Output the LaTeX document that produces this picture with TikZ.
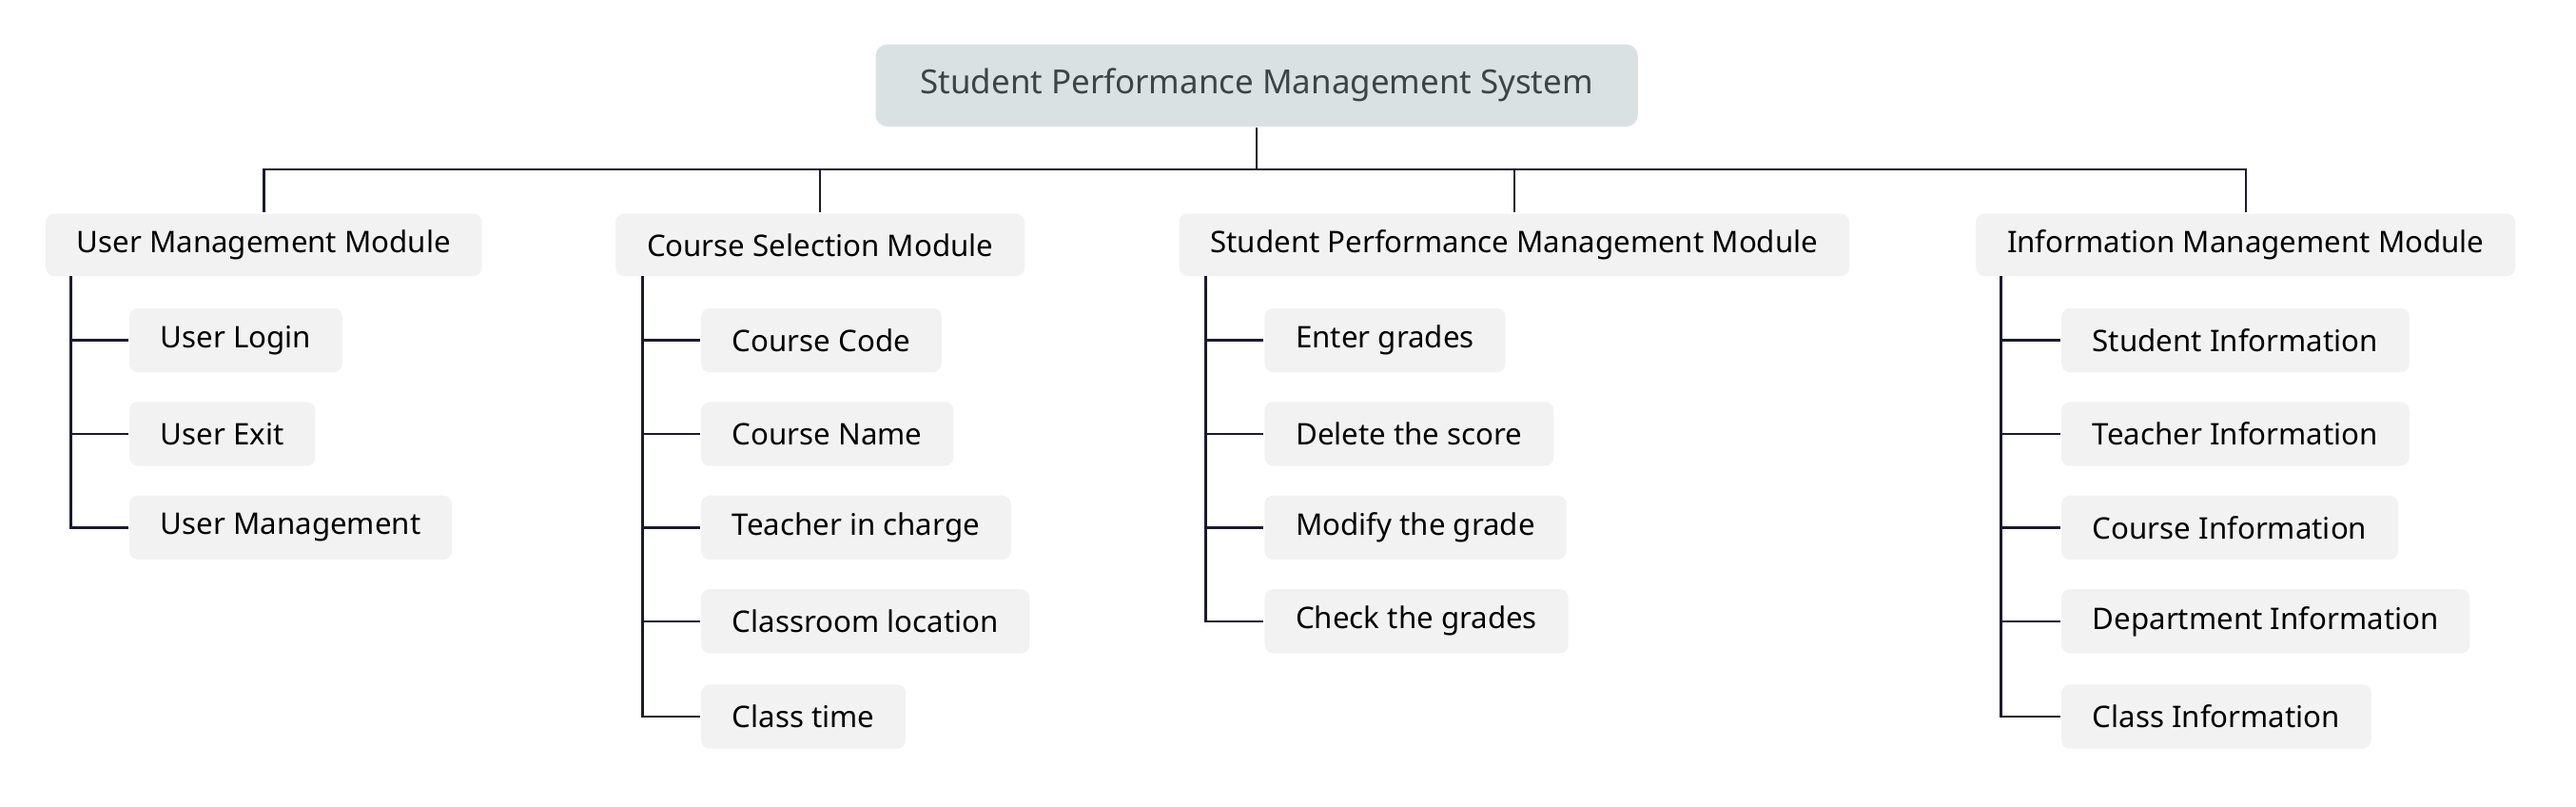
\documentclass[tikz,border=0pt]{standalone}
\usepackage{fontspec}
\setmainfont{Noto Sans}
\usetikzlibrary{positioning}
\definecolor{rootfill}{HTML}{DAE1E3}
\definecolor{boxfill}{HTML}{F2F2F2}
\definecolor{linec}{HTML}{1B1B2F}
\definecolor{roottext}{HTML}{3C4448}

\begin{document}
\begin{tikzpicture}[x=0.02cm,y=-0.02cm,line width=0.85pt,
	root/.style={fill=rootfill,rounded corners=4pt,minimum width=9.28cm,minimum height=1cm,text=roottext,font=\fontsize{11.5}{13}\selectfont},
	mod/.style={fill=boxfill,rounded corners=3pt,anchor=west,inner xsep=0.38cm,minimum height=0.76cm,font=\fontsize{10.3}{12}\selectfont},
	leaf/.style={mod,minimum height=0.78cm,font=\fontsize{10.3}{12}\selectfont\bfseries},
	link/.style={draw=linec}]
	\useasboundingbox (0,0) rectangle (1568,491);
		\node[root] (sys) at (765,52) {Student Performance Management System};
		\node[mod] (um) at (27,149) {User Management Module};
		\node[mod,font=\fontsize{10.3}{12}\selectfont\bfseries] (cs) at (374,149) {Course Selection Module};
		\node[mod] (sp) at (717,149) {Student Performance Management Module};
		\node[mod,font=\fontsize{10.3}{12}\selectfont\bfseries] (im) at (1202,149) {Information Management Module};
		
		\node[leaf] (u_1) at (78,207) {User Login};
		\node[leaf] (u_2) at (78,264) {User Exit};
		\node[leaf] (u_3) at (78,321) {User Management};
		
		\node[leaf] (c_1) at (426,207) {Course Code};
		\node[leaf] (c_2) at (426,264) {Course Name};
		\node[leaf] (c_3) at (426,321) {Teacher in charge};
		\node[leaf] (c_4) at (426,378) {Classroom location};
		\node[leaf] (c_5) at (426,436) {Class time};
		
		\node[leaf] (s_1) at (769,207) {Enter grades};
		\node[leaf] (s_2) at (769,264) {Delete the score};
		\node[leaf] (s_3) at (769,321) {Modify the grade};
		\node[leaf] (s_4) at (769,378) {Check the grades};
		
		\node[leaf] (i_1) at (1254,207) {Student Information};
		\node[leaf] (i_2) at (1254,264) {Teacher Information};
		\node[leaf] (i_3) at (1254,321) {Course Information};
		\node[leaf] (i_4) at (1254,378) {Department Information};
		\node[leaf] (i_5) at (1254,436) {Class Information};
		
		\coordinate (bus) at (765,103);
		\coordinate (um_b) at (43,168);
		\coordinate (cs_b) at (391,168);
		\coordinate (sp_b) at (734,168);
		\coordinate (im_b) at (1218,168);
		
		\path[link] (sys) -- (bus)
		(bus) -| (um) (bus) -| (cs) (bus) -| (sp) (bus) -| (im)
		(um_b) |- (u_1) (um_b) |- (u_2) (um_b) |- (u_3)
		(cs_b) |- (c_1) (cs_b) |- (c_2) (cs_b) |- (c_3) (cs_b) |- (c_4) (cs_b) |- (c_5)
		(sp_b) |- (s_1) (sp_b) |- (s_2) (sp_b) |- (s_3) (sp_b) |- (s_4)
		(im_b) |- (i_1) (im_b) |- (i_2) (im_b) |- (i_3) (im_b) |- (i_4) (im_b) |- (i_5);
	\end{tikzpicture}
\end{document}
